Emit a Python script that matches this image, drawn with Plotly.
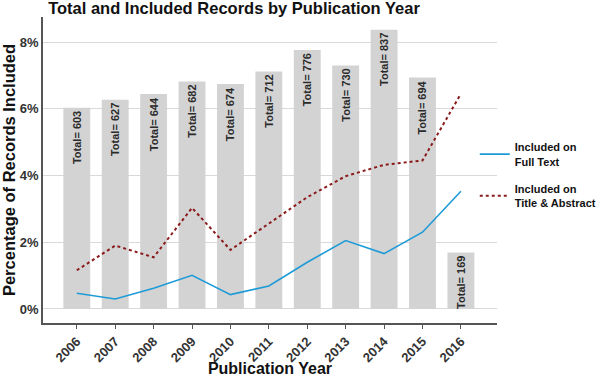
import plotly.graph_objects as go

years = ["2006", "2007", "2008", "2009", "2010", "2011", "2012", "2013", "2014", "2015", "2016"]
totals = [603, 627, 644, 682, 674, 712, 776, 730, 837, 694, 169]
full_text = [0.47, 0.30, 0.62, 1.01, 0.43, 0.69, 1.40, 2.05, 1.66, 2.30, 3.53]
title_abstract = [1.16, 1.90, 1.55, 3.03, 1.77, 2.57, 3.35, 3.98, 4.32, 4.45, 6.45]

bar_heights = [t / 100 for t in totals]
bar_labels = [f"Total= {t}" for t in totals]

FONT = "Liberation Sans, Arial, sans-serif"

fig = go.Figure()
fig.add_trace(go.Bar(
    x=years, y=bar_heights, width=0.7,
    marker=dict(color="#D3D3D3", line=dict(width=0)),
    text=bar_labels, textposition="inside", insidetextanchor="end",
    textangle=-90, constraintext="none",
    textfont=dict(family=FONT, size=11, color="#2b2b2b", weight="bold"),
    showlegend=False, hoverinfo="skip",
))
fig.add_trace(go.Scatter(
    x=years, y=full_text, mode="lines",
    line=dict(color="#1E9BD7", width=1.6),
    name="Included on<br>Full Text", legendgroup="a",
))
fig.add_trace(go.Scatter(
    x=years, y=title_abstract, mode="lines",
    line=dict(color="#8B1A1A", width=2, dash="dot"),
    name="Included on<br>Title & Abstract", legendgroup="b",
))

fig.update_layout(
    width=600, height=377,
    margin=dict(l=43, r=103, t=17, b=54, autoexpand=False),
    paper_bgcolor="white", plot_bgcolor="white",
    font=dict(family=FONT, color="#222"),
    title=dict(text="<b>Total and Included Records by Publication Year</b>",
               x=0.39, xanchor="center", y=0.993, yanchor="top", pad=dict(t=0),
               font=dict(size=16.5, color="#111")),
    bargap=0.3,
    legend=dict(x=0.951, xanchor="left", y=0.62, yanchor="top",
                font=dict(size=11, color="#111", weight="bold"),
                itemwidth=30, tracegroupgap=10, borderwidth=0,
                bgcolor="rgba(0,0,0,0)"),
    xaxis=dict(
        type="category", range=[-0.88, 10.94], automargin=False,
        tickangle=-45, showgrid=False,
        tickfont=dict(size=13, color="#333", weight="bold"),
        ticks="outside", ticklen=4, tickcolor="#555",
        showline=True, linecolor="#555", linewidth=1.5,
        title=dict(text="<b>Publication Year</b>", font=dict(size=16, color="#111"), standoff=0),
    ),
    yaxis=dict(
        range=[-0.42, 8.75], automargin=False,
        tickvals=[0, 2, 4, 6, 8], ticktext=["0%", "2%", "4%", "6%", "8%"],
        tickfont=dict(size=13, color="#333", weight="bold"),
        showgrid=True, gridcolor="#D9D9D9", gridwidth=1,
        zeroline=False,
        showline=True, linecolor="#555", linewidth=1.5,
        ticks="",
        title=dict(text="<b>Percentage of Records Included</b>", font=dict(size=16.5, color="#111"), standoff=0),
    ),
)

fig.write_html("out.html", config={"displayModeBar": False},
               post_script="document.body.style.margin='0px';")
